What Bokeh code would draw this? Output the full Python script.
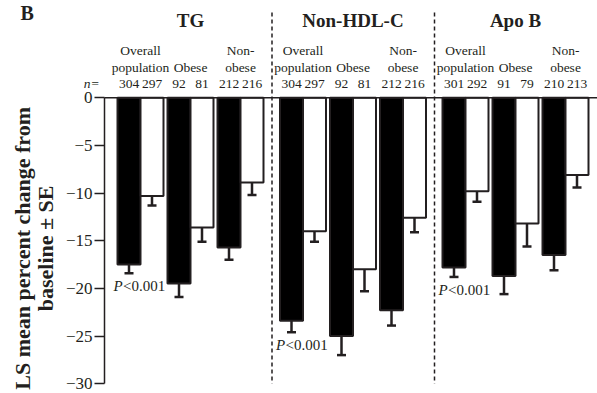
import math
from bokeh.plotting import figure
from bokeh.models import ColumnDataSource, Whisker, TeeHead, FixedTicker, Range1d
from bokeh.core.properties import value
from bokeh.embed import file_html
from bokeh.resources import INLINE

# ---------------- data ----------------
panels = ["TG", "Non-HDL-C", "Apo B"]
group_line1 = ["Overall", "", "Non-"]
group_line2 = ["population", "Obese", "obese"]

# n per bar: [treatment(black), comparator(white)] for each subgroup
n_black = [[304, 92, 212], [304, 92, 212], [301, 91, 210]]
n_white = [[297, 81, 216], [297, 81, 216], [292, 79, 213]]

# LS mean percent change from baseline
mean_black = [[-17.5, -19.5, -15.7], [-23.4, -25.0, -22.3], [-17.8, -18.7, -16.5]]
mean_white = [[-10.3, -13.6, -8.9], [-14.0, -18.0, -12.6], [-9.8, -13.2, -8.1]]
se_black = [[0.9, 1.4, 1.3], [1.2, 2.0, 1.6], [1.0, 1.9, 1.6]]
se_white = [[1.0, 1.5, 1.3], [1.1, 2.3, 1.5], [1.1, 2.4, 1.3]]

p_text = "<0.001"
y_ticks = [0, -5, -10, -15, -20, -25, -30]

# ---------------- layout helpers ----------------
FONT = "Liberation Serif"
INK = "#231f20"
PANEL_STEP = 3.25
OFF = 0.23
BAR_W = 0.46
X_END = 9.14

def gx(i, j):
    return i * PANEL_STEP + j

p = figure(width=597, height=393, output_backend="svg", toolbar_location=None,
           x_range=Range1d(-2.8, X_END), y_range=Range1d(-31.03, 10.21),
           min_border=0, min_border_left=0, min_border_right=0,
           min_border_top=0, min_border_bottom=0)
p.outline_line_color = None
p.grid.visible = False
p.xaxis.visible = False
p.background_fill_color = "white"
p.border_fill_color = "white"

yax = p.yaxis[0]
yax.fixed_location = -0.72
yax.bounds = (-30, 0)
yax.ticker = FixedTicker(ticks=y_ticks)
yax.major_label_overrides = {t: (str(t).replace("-", "\u2212")) for t in y_ticks}
yax.major_tick_out = 10
yax.major_tick_in = 0
yax.minor_tick_line_color = None
yax.major_label_standoff = 2
yax.axis_line_width = 1.5
yax.axis_line_color = INK
yax.major_tick_line_width = 1.5
yax.major_tick_line_color = INK
yax.major_label_text_font = FONT
yax.major_label_text_font_size = "17px"
yax.major_label_text_color = INK

# bars
bx_b, bx_w, top_b, top_w, e_b, e_w = [], [], [], [], [], []
for i in range(3):
    for j in range(3):
        bx_b.append(gx(i, j) - OFF)
        bx_w.append(gx(i, j) + OFF)
        top_b.append(mean_black[i][j])
        top_w.append(mean_white[i][j])
        e_b.append(mean_black[i][j] - se_black[i][j])
        e_w.append(mean_white[i][j] - se_white[i][j])

src_b = ColumnDataSource(dict(x=bx_b, top=top_b, lower=e_b))
src_w = ColumnDataSource(dict(x=bx_w, top=top_w, lower=e_w))

p.vbar(x="x", top="top", bottom=0, width=BAR_W, source=src_b,
       fill_color="#000000", line_color=INK, line_width=2)
p.vbar(x="x", top="top", bottom=0, width=BAR_W, source=src_w,
       fill_color="white", line_color=INK, line_width=2)

for src in (src_b, src_w):
    w = Whisker(base="x", upper="top", lower="lower", source=src, dimension="height",
                line_color=INK, line_width=2.5, upper_head=None,
                lower_head=TeeHead(size=9, line_color=INK, line_width=2.5))
    p.add_layout(w)

# zero line along the top of the bars
p.segment(x0=[-0.72], y0=[0], x1=[X_END], y1=[0], line_color=INK, line_width=1.5)

# dashed dividers
for i in range(1, 3):
    xd = i * PANEL_STEP - 0.62
    p.segment(x0=[xd], y0=[8.95], x1=[xd], y1=[-30], line_color=INK,
              line_width=1.5, line_dash="4 3")

# panel titles
p.text(x=[gx(i, 1) for i in range(3)], y=[8.1] * 3, text=panels,
       text_font=value(FONT), text_font_size="19px", text_font_style="bold",
       text_align="center", text_baseline="middle", text_color=INK)

# "B"
p.text(x=[-2.40], y=[8.9], text=["B"], text_font=value(FONT), text_font_size="20px",
       text_font_style="bold", text_align="left", text_baseline="middle", text_color=INK)

# subgroup labels
gxs = [gx(i, j) for i in range(3) for j in range(3)]
p.text(x=gxs, y=[4.96] * 9, text=group_line1 * 3, text_font=value(FONT),
       text_font_size="13.5px", text_align="center", text_baseline="middle", text_color=INK)
p.text(x=gxs, y=[3.18] * 9, text=group_line2 * 3, text_font=value(FONT),
       text_font_size="13.5px", text_align="center", text_baseline="middle", text_color=INK)

# n values
nb = [str(n_black[i][j]) for i in range(3) for j in range(3)]
nw = [str(n_white[i][j]) for i in range(3) for j in range(3)]
p.text(x=bx_b + bx_w, y=[1.45] * 18, text=nb + nw, text_font=value(FONT),
       text_font_size="13.5px", text_align="center", text_baseline="middle", text_color=INK)
p.text(x=[-0.82], y=[1.45], text=["n="], text_font=value(FONT), text_font_size="13.5px",
       text_font_style="italic", text_align="right", text_baseline="middle", text_color=INK)

# P values under overall-population treatment bars
px = [gx(i, 0) - OFF - 0.31 for i in range(3)]
py = [mean_black[i][0] - se_black[i][0] - 0.5 for i in range(3)]
p.text(x=px, y=py, text=["P"] * 3, text_font=value(FONT), text_font_size="15px",
       text_font_style="italic", text_align="left", text_baseline="top", text_color=INK)
p.text(x=[v + 0.19 for v in px], y=py, text=[p_text] * 3, text_font=value(FONT),
       text_font_size="15px", text_align="left", text_baseline="top", text_color=INK)

# y-axis title (two rotated lines)
p.text(x=[-2.36, -1.90], y=[-15.8, -15.8],
       text=["LS mean percent change from", "baseline \u00b1 SE"],
       angle=math.pi / 2, text_font=value(FONT), text_font_size="22px",
       text_font_style="bold", text_align="center", text_baseline="middle", text_color=INK)

open("out.html", "w").write(file_html(p, INLINE))
